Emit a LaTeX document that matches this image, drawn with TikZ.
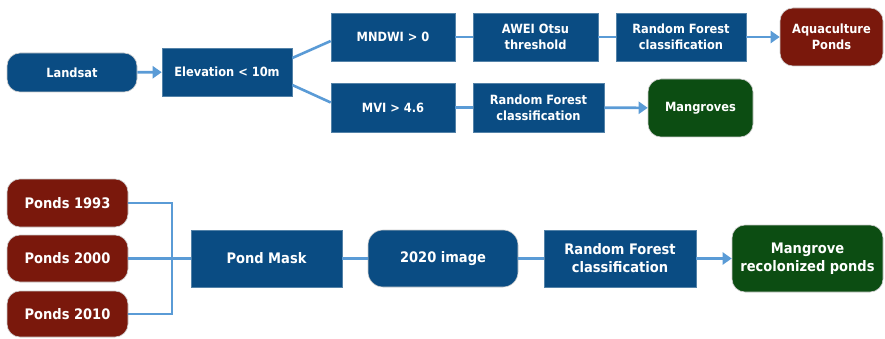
\documentclass[tikz,border=0pt]{standalone}
\usepackage{fontspec}
\setmainfont{DejaVu Sans Condensed}
\usetikzlibrary{arrows.meta}
\definecolor{boxblue}{HTML}{0A4C83}
\definecolor{boxred}{HTML}{7A180C}
\definecolor{boxgreen}{HTML}{0C4D12}
\definecolor{linkblue}{HTML}{5A9BD6}
\tikzset{
  base/.style={text=white, font=\bfseries\fontsize{12.7}{16}\selectfont, align=center, inner sep=0pt},
  big/.style={font=\bfseries\fontsize{14.5}{18}\selectfont},
  sq/.style={base, fill=boxblue, draw=boxblue!70!white, line width=0.6pt},
  rnd/.style={base, rounded corners=13pt, draw=white!80!black, line width=0.6pt},
  blueround/.style={rnd, fill=boxblue},
  redround/.style={rnd, fill=boxred},
  greenround/.style={rnd, fill=boxgreen},
  link/.style={draw=linkblue, line width=2.6pt},
  arrowlink/.style={link, -{Triangle[length=9pt,width=12pt]}},
  bracket/.style={draw=linkblue, line width=2.2pt}
}
\begin{document}
\begin{tikzpicture}[x=1pt, y=-1pt]
\useasboundingbox (0,0) rectangle (885,339);
% upper flow
\node[blueround, minimum width=130pt, minimum height=39pt] (landsat) at (72,72.5) {Landsat};
\node[sq, minimum width=130pt, minimum height=48pt] (elev) at (227,72) {Elevation < 10m};
\node[sq, minimum width=124pt, minimum height=48pt] (mndwi) at (393,37) {MNDWI > 0};
\node[sq, minimum width=124pt, minimum height=49pt] (mvi) at (393,107.5) {MVI > 4.6};
\node[sq, minimum width=125pt, minimum height=48pt] (awei) at (535.5,37) {AWEI Otsu\\threshold};
\node[sq, minimum width=130pt, minimum height=48pt] (rfa) at (681,37) {Random Forest\\classification};
\node[redround, minimum width=103pt, minimum height=58pt] (aqua) at (831.5,37) {Aquaculture\\Ponds};
\node[sq, minimum width=131pt, minimum height=49pt] (rfb) at (538.5,107.5) {Random Forest\\classification};
\node[greenround, minimum width=105pt, minimum height=58pt] (mang) at (700.5,108) {Mangroves};

\draw[arrowlink] (landsat) -- (elev);
\draw[link] ([yshift=14pt]elev.east) -- ([yshift=-4pt]mndwi.west);
\draw[link] ([yshift=-13pt]elev.east) -- ([yshift=5pt]mvi.west);
\draw[link] (mndwi) -- (awei);
\draw[link] (awei) -- (rfa);
\draw[arrowlink] (rfa) -- (aqua);
\draw[link] (mvi) -- (rfb);
\draw[arrowlink] (rfb) -- (mang);

% lower flow
\node[redround, big, minimum width=121pt, minimum height=48pt] (p93) at (67.5,203) {Ponds 1993};
\node[redround, big, minimum width=121pt, minimum height=47pt] (p00) at (67.5,258.5) {Ponds 2000};
\node[redround, big, minimum width=121pt, minimum height=46pt] (p10) at (67.5,314) {Ponds 2010};
\node[sq, big, minimum width=151pt, minimum height=57pt] (mask) at (266.5,258.5) {Pond Mask};
\node[blueround, big, rounded corners=15pt, minimum width=150pt, minimum height=57pt] (img) at (443,258.5) {2020 image};
\node[sq, big, minimum width=152pt, minimum height=57pt] (rfc) at (620,258.5) {Random Forest\\classification};
\node[greenround, big, minimum width=151pt, minimum height=67pt] (recol) at (807.5,258.5) {Mangrove\\recolonized ponds};

\coordinate (jn) at (172,258.5);
\draw[bracket] (p93.east) -| (jn) |- (p10.east);
\draw[bracket] (p00.east) -- (mask.west);
\draw[link] (mask) -- (img);
\draw[link] (img) -- (rfc);
\draw[arrowlink] (rfc) -- (recol);
\end{tikzpicture}
\end{document}
